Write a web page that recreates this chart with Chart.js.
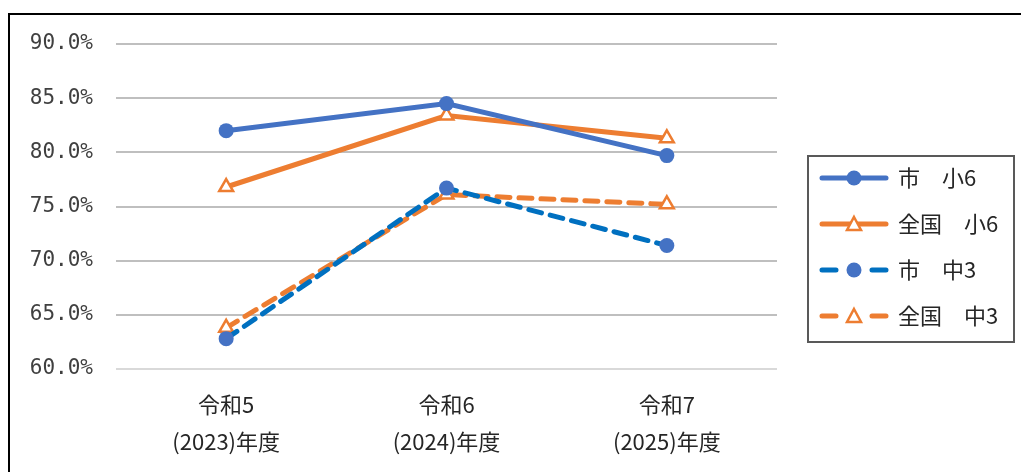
<!DOCTYPE html>
<html>
<head>
<meta charset="utf-8">
<script src="https://cdn.jsdelivr.net/npm/chart.js@4"></script>
<style>
  body { margin: 0; background: #fff; }
  #wrap { position: relative; width: 1022px; height: 472px; }
</style>
</head>
<body>
<div id="wrap"><canvas id="myChart"></canvas></div>
<script>
// 年度ラベル
const categories = [
    ['令和5', '(2023)年度'],
    ['令和6', '(2024)年度'],
    ['令和7', '(2025)年度']
]
// 正答率 (%)
const shiSho6 = [82.0, 84.5, 79.7]
const zenkokuSho6 = [76.8, 83.4, 81.3]
const shiChu3 = [62.8, 76.7, 71.4]
const zenkokuChu3 = [63.8, 76.1, 75.2]
const seriesNames = ['市　小6', '全国　小6', '市　中3', '全国　中3']
const yTicks = { min: 60, max: 90, step: 5 }

const BLUE = '#4472C4'
const BLUE2 = '#0070C0'
const ORANGE = '#ED7D31'
const JP = '"Noto Sans CJK JP", "Noto Sans", sans-serif'

// 枠線と凡例を描くプラグイン
const frameLegend = {
    id: 'frameLegend',
    afterDraw(chart) {
        const ctx = chart.ctx
        ctx.save()
        // 外枠(左と上)
        ctx.strokeStyle = '#000'
        ctx.lineWidth = 2
        ctx.beginPath()
        ctx.moveTo(9, 472)
        ctx.lineTo(9, 14)
        ctx.lineTo(1021, 14)
        ctx.stroke()

        // 凡例
        const bx = 808, by = 156, bw = 206, bh = 186
        ctx.strokeStyle = '#595959'
        ctx.lineWidth = 2
        ctx.strokeRect(bx, by, bw, bh)
        const rowY = [178, 224, 270, 316]
        chart.data.datasets.forEach((ds, i) => {
            const y = rowY[i]
            ctx.strokeStyle = ds.borderColor
            ctx.lineWidth = 5
            ctx.lineCap = 'round'
            ctx.beginPath()
            if (ds.borderDash) {
                ctx.moveTo(822, y); ctx.lineTo(836, y)
                ctx.moveTo(872, y); ctx.lineTo(886, y)
            } else {
                ctx.moveTo(822, y); ctx.lineTo(886, y)
            }
            ctx.stroke()
            // マーカー
            ctx.fillStyle = ds.pointBackgroundColor
            ctx.strokeStyle = ds.pointBorderColor
            ctx.lineWidth = 2.5
            ctx.beginPath()
            if (ds.pointStyle === 'triangle') {
                ctx.moveTo(854, y - 7); ctx.lineTo(861, y + 6); ctx.lineTo(847, y + 6); ctx.closePath()
                ctx.fill(); ctx.stroke()
            } else {
                ctx.arc(854, y, 7.5, 0, Math.PI * 2)
                ctx.fill()
            }
            ctx.fillStyle = '#262626'
            ctx.font = '22px ' + JP
            ctx.textBaseline = 'middle'
            ctx.fillText(ds.label, 898, y)
        })
        ctx.restore()
    }
}

const makeSet = (label, data, color, marker, dashed, markerColor) => ({
    label: label,
    data: data,
    borderColor: color,
    borderWidth: 5,
    borderDash: dashed ? [13, 9] : undefined,
    borderCapStyle: dashed ? 'round' : 'butt',
    pointStyle: marker,
    pointRadius: marker === 'triangle' ? 8 : 7.5,
    pointHoverRadius: 7,
    pointBorderWidth: marker === 'triangle' ? 2.5 : 0,
    pointBackgroundColor: marker === 'triangle' ? '#fff' : markerColor,
    pointBorderColor: marker === 'triangle' ? color : markerColor,
    tension: 0,
    fill: false
})

const ctx = document.querySelector('#myChart').getContext('2d')
new Chart(ctx, {
    type: 'line',
    data: {
        labels: categories,
        datasets: [
            makeSet(seriesNames[0], shiSho6, BLUE, 'circle', false, BLUE),
            makeSet(seriesNames[1], zenkokuSho6, ORANGE, 'triangle', false, ORANGE),
            makeSet(seriesNames[2], shiChu3, BLUE2, 'circle', true, BLUE),
            makeSet(seriesNames[3], zenkokuChu3, ORANGE, 'triangle', true, ORANGE)
        ]
    },
    options: {
        responsive: true,
        maintainAspectRatio: false,
        animation: false,
        layout: { padding: { left: 0, right: 245, top: 44, bottom: 0 } },
        plugins: {
            legend: { display: false },
            tooltip: { enabled: false }
        },
        scales: {
            x: {
                offset: true,
                grid: { display: false },
                border: { display: false },
                ticks: {
                    color: '#262626',
                    font: { family: JP, size: 22, lineHeight: 1.7 },
                    padding: 9,
                    maxRotation: 0
                },
                afterFit: (scale) => { scale.height = 103 }
            },
            y: {
                min: yTicks.min,
                max: yTicks.max,
                border: { display: false },
                grid: {
                    drawTicks: false,
                    lineWidth: 2,
                    color: (c) => c.tick && c.tick.value === yTicks.min ? '#d9d9d9' : '#bfbfbf'
                },
                ticks: {
                    stepSize: yTicks.step,
                    padding: 23,
                    color: '#404040',
                    font: { family: '"DejaVu Sans Mono", monospace', size: 21 },
                    callback: (v) => v.toFixed(1) + '%'
                },
                afterFit: (scale) => { scale.width = 116 }
            }
        }
    },
    plugins: [frameLegend]
})
</script>
</body>
</html>
